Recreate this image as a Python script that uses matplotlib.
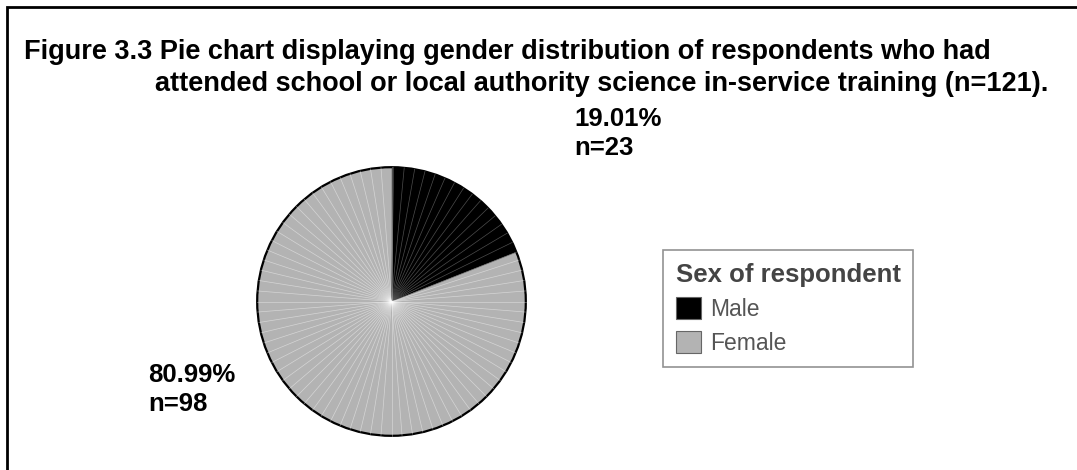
import matplotlib
matplotlib.use("Agg")
import matplotlib.pyplot as plt
from matplotlib.patches import Patch, Circle, Rectangle
import numpy as np

# respondents who attended in-service training, by sex
categories = ["Male", "Female"]
counts = [23, 98]
colors = ["#000000", "#b3b3b3"]
legend_title = "Sex of respondent"
title_lines = [
    "Figure 3.3 Pie chart displaying gender distribution of respondents who had",
    "attended school or local authority science in-service training (n=121).",
]

plt.rcParams["font.family"] = ["Liberation Sans", "DejaVu Sans"]

W, H = 1077, 470
fig = plt.figure(figsize=(W / 100, H / 100), dpi=100)


def fx(px):
    return px / W


def fy(py):
    return 1 - py / H


# page frame (only the top and left edges fall inside the picture)
fig.add_artist(Rectangle((fx(7), -0.2), 1.2, fy(7) + 0.2, transform=fig.transFigure,
                         fill=False, lw=2, ec="black"))

fig.text(fx(24), fy(59), title_lines[0], fontsize=19.5, fontweight="bold", va="baseline")
fig.text(fx(155), fy(91), title_lines[1], fontsize=19.5, fontweight="bold", va="baseline")

# pie
cx, cy, r = 391.5, 301.5, 137
ax = fig.add_axes([fx(cx - r), fy(cy + r), 2 * r / W, 2 * r / H])
wedges, _ = ax.pie(counts, colors=colors, startangle=90, counterclock=False,
                   wedgeprops=dict(linewidth=0))
ax.set_xlim(-1.02, 1.02)
ax.set_ylim(-1.02, 1.02)

# fine radial strokes inside each slice
for w, lc, la in zip(wedges, ["#555555", "white"], [0.9, 0.45]):
    for a in np.arange(w.theta1, w.theta2, 4.5):
        t = np.deg2rad(a)
        ax.plot([0, np.cos(t)], [0, np.sin(t)], color=lc, lw=0.5, alpha=la)
ax.add_patch(Circle((0, 0), 1, fill=False, ec="black", lw=1.6))

# labels: last-line baseline positions
total = sum(counts)
label_pos = [(574, 155), (148, 411)]
for c, (px, py) in zip(counts, label_pos):
    fig.text(fx(px), fy(py), f"{100 * c / total:.2f}%\nn={c}", fontsize=18.5,
             fontweight="bold", va="baseline", linespacing=1.25)

handles = [Patch(facecolor=col, edgecolor="#666666", lw=0.8) for col in colors]
leg = fig.legend(handles, categories, title=legend_title, loc="upper left",
                 bbox_to_anchor=(fx(663), fy(250)), borderaxespad=0, fontsize=16.5,
                 title_fontproperties=dict(weight="bold", size=18.5),
                 alignment="left", frameon=True, fancybox=False,
                 handlelength=1.1, handleheight=1.1, handletextpad=0.4,
                 labelspacing=0.45, borderpad=0.55)
leg.get_frame().set_edgecolor("#777777")
leg.get_frame().set_linewidth(1.2)
leg.get_title().set_color("#444444")
for t in leg.get_texts():
    t.set_color("#555555")

fig.savefig("out.png", dpi=100)
